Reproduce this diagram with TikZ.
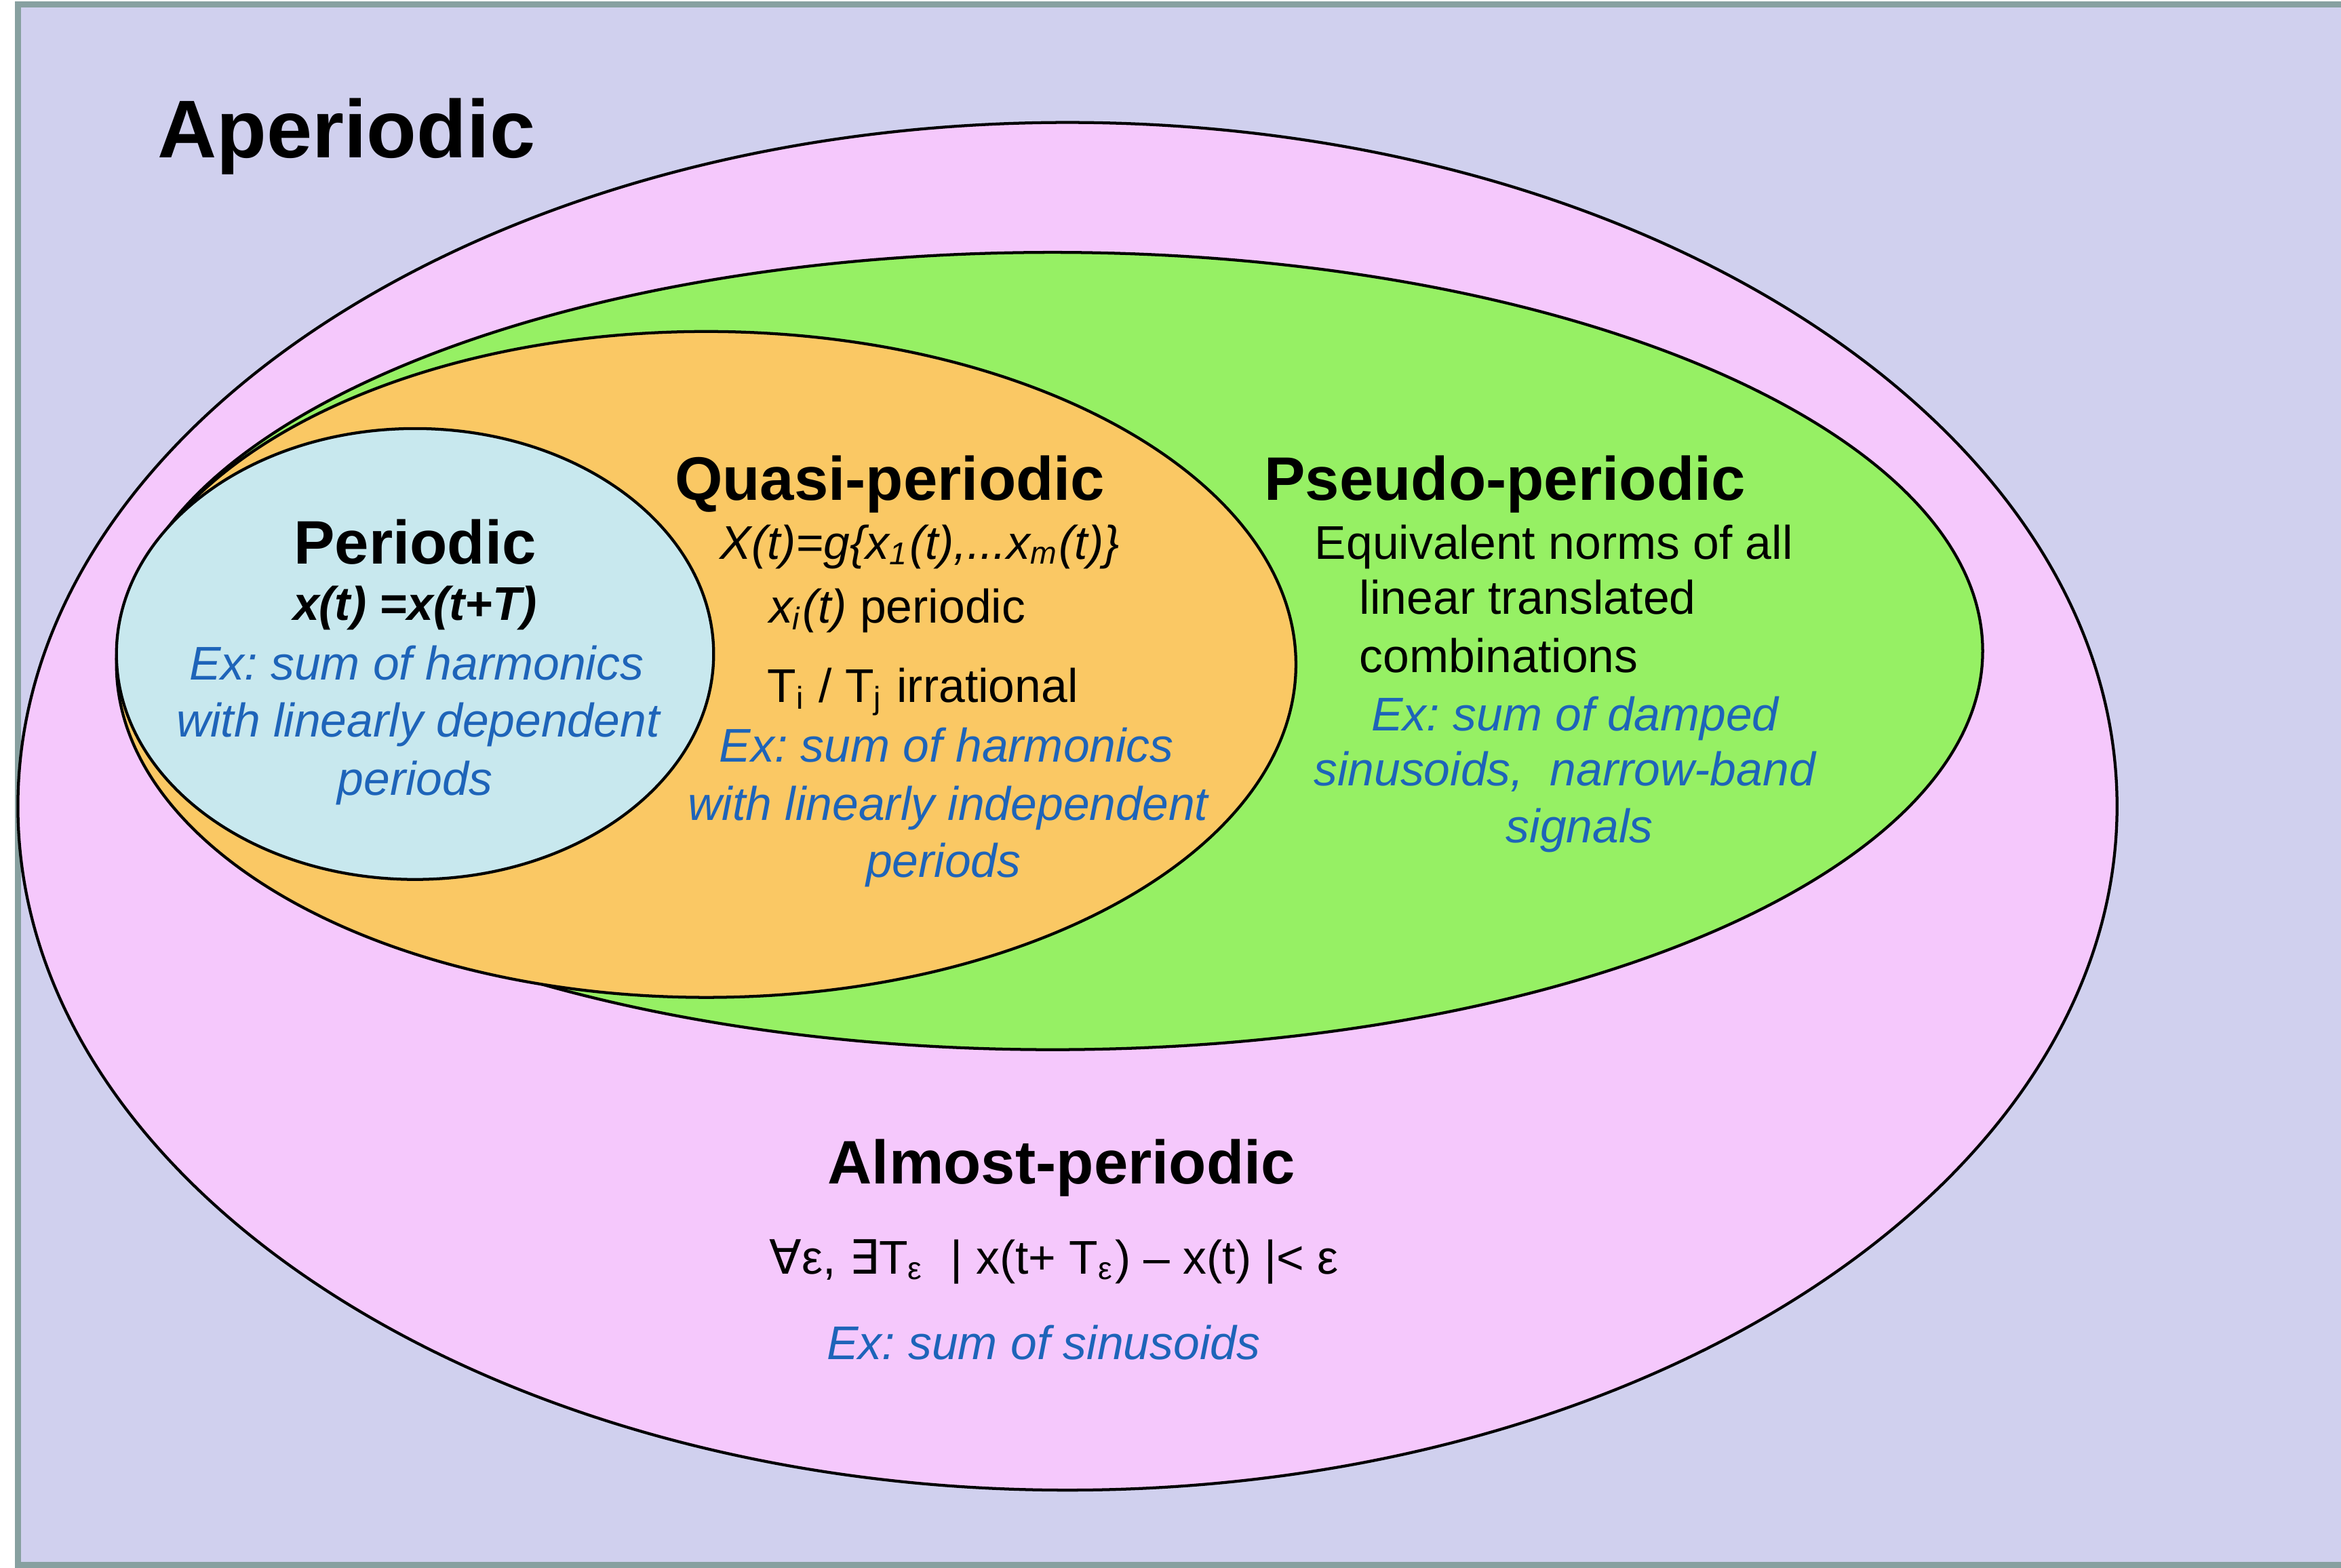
\documentclass[tikz,border=0pt]{standalone}
\usepackage{fontspec}
\setmainfont{Liberation Sans}
\newfontfamily\symfont{DejaVu Sans}
\usetikzlibrary{positioning}
\frenchspacing
\definecolor{aperbg}{RGB}{208,208,238}
\definecolor{almostbg}{RGB}{245,200,252}
\definecolor{pseudobg}{RGB}{150,240,100}
\definecolor{quasibg}{RGB}{250,200,100}
\definecolor{periodbg}{RGB}{200,232,238}
\definecolor{framecol}{RGB}{135,160,160}
\definecolor{exblue}{RGB}{30,100,185}
\tikzset{
  region/.style  = {draw=black, line width=0.55pt},
  frame/.style   = {draw=framecol, line width=1.1pt},
  head/.style    = {font=\bfseries\fontsize{11.7}{14}\selectfont,
                    inner sep=0pt, text height=8.4pt, text depth=0pt},
  headbig/.style = {head, font=\bfseries\fontsize{15.6}{18}\selectfont,
                    text height=11.2pt},
  txt/.style     = {font=\fontsize{9}{11}\selectfont,
                    inner sep=0pt, text height=6.45pt, text depth=0pt},
  ex/.style      = {txt, font=\itshape\fontsize{9}{11}\selectfont, text=exblue},
}

\begin{document}
\begin{tikzpicture}[x=0.01cm, y=-0.01cm]
  \useasboundingbox (0,0) rectangle (1568,1050);
  \fill[white] (0,0) rectangle (1568,1050);
  \fill[aperbg] (12,3) rectangle (1568,1048);
  \draw[frame] (1568,3) -- (12,3) -- (12,1048) -- (1568,1048);
  % nested classes of signals
  \filldraw[region, fill=almostbg] (715,540) ellipse [x radius=703, y radius=458];
  \filldraw[region, fill=pseudobg] (705,436) ellipse [x radius=623, y radius=267];
  \filldraw[region, fill=quasibg]  (473,445) ellipse [x radius=395, y radius=223];
  \filldraw[region, fill=periodbg] (278,438) ellipse [x radius=200, y radius=151];

  \node[headbig] (aper) at (232,86) {Aperiodic};

  \node[head] (per) at (278,363) {Periodic};
  \node[txt, font=\bfseries\itshape\fontsize{9}{11}\selectfont] (perf) at (278,404) {x(t) =x(t+T)};
  \node[ex] (perex1) at (279,444) {Ex: sum of harmonics};
  \node[ex] (perex2) at (280,482) {with linearly dependent};
  \node[ex] (perex3) at (278,521) {periods};

  \node[head] (quasi) at (596,320) {Quasi-periodic};
  \node[txt, font=\itshape\fontsize{9}{11}\selectfont] (quasif) at (616,363)
       {X(t)=g\{x\textsubscript{1}(t),...x\textsubscript{m}(t)\}};
  \node[txt] (quasia) at (601,406) {\textit{x\textsubscript{i}(t)} periodic};
  \node[txt] (quasib) at (618,459) {T\textsubscript{i} / T\textsubscript{j} irrational};
  \node[ex] (quasiex1) at (634,499) {Ex: sum of harmonics};
  \node[ex] (quasiex2) at (635,538) {with linearly independent};
  \node[ex] (quasiex3) at (632,576) {periods};

  \node[head] (pseudo) at (1008,320) {Pseudo-periodic};
  \node[txt, anchor=west] (pseudoa) at (880,363) {Equivalent norms of all};
  \node[txt, anchor=west] (pseudob) at (910,400) {linear translated};
  \node[txt, anchor=west] (pseudoc) at (910,439) {combinations};
  \node[ex] (pseudoex1) at (1055,478) {Ex: sum of damped};
  \node[ex] (pseudoex2) at (1048,515) {sinusoids,~ narrow-band};
  \node[ex] (pseudoex3) at (1058,553) {signals};

  \node[head] (almost) at (711,778) {Almost-periodic};
  \node[txt] (almostf) at (706,842)
       {{\symfont ∀}ε, {\symfont ∃}T\textsubscript{ε}~ | x(t+ T\textsubscript{ε}) – x(t) |< ε};
  \node[ex] (almostex) at (699,899) {Ex: sum of sinusoids};
\end{tikzpicture}
\end{document}
